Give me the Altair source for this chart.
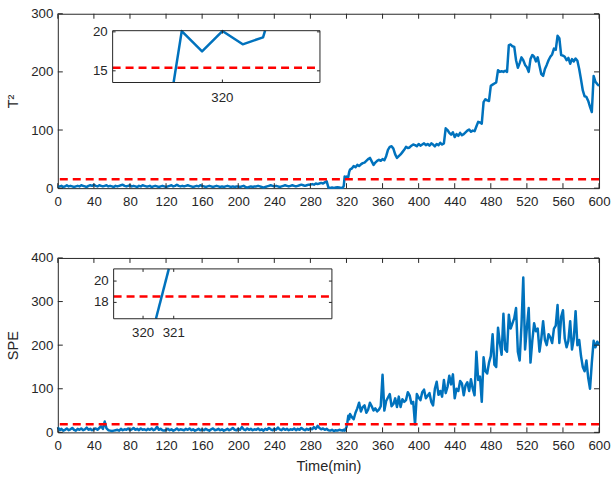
import altair as alt
import pandas as pd

# ---------------- data ----------------
x_ticks = list(range(0, 601, 40))
t2_ticks = [0, 100, 200, 300]
spe_ticks = [0, 100, 200, 300, 400]

t2_limit = 15.4
spe_limit = 18.55

# sampling: every 2 min up to 316, every minute around the fault onset, then every 2 min
time_early = list(range(0, 317, 2))
time_onset = list(range(317, 325))
time_late = list(range(326, 601, 2))

t2_early = [
    2, 3, 4, 2, 3, 5, 3, 4, 3, 2,      # 0-18
    3, 4, 3, 5, 4, 3, 2, 4, 5, 4,      # 20-38
    6, 4, 3, 5, 4, 3, 4, 5, 3, 4,      # 40-58
    3, 2, 4, 3, 4, 5, 6, 4, 3, 4,      # 60-78
    5, 3, 4, 3, 2, 4, 3, 5, 4, 3,      # 80-98
    3, 4, 2, 3, 4, 3, 2, 3, 4, 3,      # 100-118
    2, 3, 4, 5, 3, 4, 6, 4, 3, 4,      # 120-138
    3, 4, 5, 4, 3, 2, 3, 4, 3, 5,      # 140-158
    4, 3, 2, 3, 4, 3, 2, 3, 4, 3,      # 160-178
    2, 3, 2, 3, 4, 3, 2, 3, 2, 3,      # 180-198
    3, 2, 3, 4, 2, 1, 2, 3, 2, 3,      # 200-218
    3, 4, 3, 2, 1, 2, 3, 4, 5, 4,      # 220-238
    3, 4, 3, 2, 3, 4, 5, 4, 3, 4,      # 240-258
    5, 4, 3, 4, 5, 6, 5, 4, 5, 6,      # 260-278
    6, 7, 6, 8, 7, 8, 9, 8, 10, 12,    # 280-298
    1, 0.5, 1, 0.5, 1, 1.5, 1, 0.5, 1,  # 300-316
]
t2_onset = [4, 20.1, 17.5, 20.1, 18.4, 19.3, 28, 32]   # 317-324
t2_late = [
    34, 38, 36, 40, 38, 41, 43, 44, 47, 50,            # 326-344
    52, 46, 40, 44, 47, 49, 47, 50, 48, 55,            # 346-364
    66, 71, 72, 68, 58, 52, 55, 58, 62, 66,            # 366-384
    71, 69, 70, 73, 75, 74, 72, 76, 73, 75,            # 386-404
    77, 74, 76, 73, 77, 75, 72, 76, 74, 78,            # 406-424
    75, 77, 103, 100, 95, 92, 96, 88, 93, 90,          # 426-444
    95, 91, 93, 96, 99, 101, 97, 99, 98, 106,          # 446-464
    114, 113, 111, 148, 153, 151, 150, 176, 178, 180,  # 466-484
    182, 203, 200, 201, 200, 202, 200, 246, 247, 244,  # 486-504
    243, 220, 207, 215, 225, 220, 212, 208, 200, 222,  # 506-524
    229, 226, 218, 225, 210, 196, 193, 205, 212, 220,  # 526-544
    226, 230, 240, 238, 262, 258, 229, 228, 226, 220,  # 546-564
    224, 214, 222, 218, 223, 219, 205, 187, 168, 158,  # 566-584
    157, 150, 140, 131, 193, 183, 179, 176,            # 586-600
]

spe_early = [
    12, 5, 8, 4, 6, 9, 5, 7, 10, 6,    # 0-18
    4, 8, 6, 9, 5, 7, 11, 6, 8, 5,     # 20-38
    7, 9, 6, 10, 14, 8, 25, 9, 5, 4,   # 40-58
    3, 4, 5, 6, 4, 8, 5, 7, 6, 9,      # 60-78
    5, 7, 10, 6, 8, 5, 9, 6, 7, 5,     # 80-98
    8, 6, 9, 5, 7, 13, 6, 8, 5, 4,     # 100-118
    6, 8, 5, 7, 4, 6, 9, 5, 7, 6,      # 120-138
    5, 8, 6, 9, 5, 7, 4, 6, 8, 5,      # 140-158
    7, 5, 8, 6, 4, 7, 9, 5, 6, 8,      # 160-178
    5, 7, 4, 6, 8, 5, 7, 10, 6, 5,     # 180-198
    8, 6, 12, 7, 5, 9, 6, 8, 5, 7,     # 200-218
    6, 9, 5, 7, 4, 8, 6, 10, 7, 5,     # 220-238
    8, 6, 11, 7, 5, 9, 6, 8, 5, 7,     # 240-258
    6, 9, 5, 8, 6, 10, 7, 5, 8, 6,     # 260-278
    9, 7, 12, 8, 15, 10, 7, 9, 6, 8,   # 280-298
    5, 4, 6, 3, 5, 4, 6, 5, 4,         # 300-316
]
spe_onset = [6, 4, 8, 11.8, 22.9, 38, 30, 42]           # 317-324
spe_late = [
    35, 30, 45, 55, 68, 48, 58, 62, 45, 52,            # 326-344
    68, 60, 50, 55, 48, 52, 60, 132, 50, 72,           # 346-364
    80, 88, 60, 65, 78, 58, 82, 58, 76, 70,            # 366-384
    74, 92, 85, 66, 70, 18, 88, 80, 74, 92,            # 386-404
    98, 78, 84, 90, 70, 62, 100, 116, 86, 95,          # 406-424
    82, 120, 90, 104, 130, 110, 133, 78, 100, 95,      # 426-444
    118, 112, 85, 108, 115, 95, 122, 100, 85, 185,     # 446-464
    120, 128, 70, 172, 140, 135, 160, 175, 225, 155,   # 466-484
    150, 240, 205, 178, 272, 190, 185, 270, 238, 250,  # 486-504
    262, 285, 185, 165, 245, 355, 190, 240, 285, 160,  # 506-524
    210, 250, 232, 238, 185, 215, 255, 212, 200, 225,  # 526-544
    218, 205, 238, 245, 292, 205, 265, 280, 215, 195,  # 546-564
    210, 255, 190, 215, 278, 200, 212, 175, 150, 140,  # 566-584
    165, 125, 100, 160, 210, 195, 208, 200,            # 586-600
]

# zoomed windows around the onset (trace points incl. where it meets the window frame)
t2_zoom_time = [317.6, 318, 319, 320, 321, 322, 322.1]
t2_zoom_value = [13.5, 20.1, 17.5, 20.1, 18.4, 19.3, 20.15]
t2_zoom_xdomain = [314.6, 324.8]
t2_zoom_ydomain = [13.5, 20.15]
t2_zoom_xticks = [320]
t2_zoom_yticks = [15, 20]

spe_zoom_time = [320.42, 320.84]
spe_zoom_value = [16.47, 21.14]
spe_zoom_xdomain = [319.04, 326.16]
spe_zoom_ydomain = [16.47, 21.14]
spe_zoom_xticks = [320, 321]
spe_zoom_yticks = [18, 20]

# ---------------- style ----------------
W, H = 543, 175
BLUE = "#0072BD"
RED = "#FF0000"
INK = "#262626"
FONT = "Liberation Sans"
TICK = 5


def panel(values, limit, ymax, yticks, ytitle, xtitle,
          z_time, z_value, z_xdom, z_ydom, z_xticks, z_yticks,
          z_xrange, z_yrange, z_label_dy):
    time = time_early + time_onset + time_late
    df = pd.DataFrame({"t": time, "v": values})

    xenc = alt.X("t:Q", title=xtitle,
                 scale=alt.Scale(domain=[0, 600], nice=False, zero=False),
                 axis=alt.Axis(values=x_ticks, ticks=False, domain=False, grid=False,
                               labelFlush=False, labelOverlap=False,
                               labelPadding=6, titlePadding=7, format="d"))
    yenc = alt.Y("v:Q", title=ytitle,
                 scale=alt.Scale(domain=[0, ymax], nice=False, zero=False),
                 axis=alt.Axis(values=yticks, ticks=False, domain=False, grid=False,
                               labelFlush=False, labelOverlap=False,
                               labelPadding=5, titlePadding=10, format="d"))

    line = alt.Chart(df).mark_line(color=BLUE, strokeWidth=2.5, strokeJoin="round").encode(x=xenc, y=yenc)
    thr = alt.Chart(pd.DataFrame({"v": [limit]})).mark_rule(
        color=RED, strokeWidth=2.5, strokeDash=[8, 5]).encode(y=yenc)

    xt = pd.DataFrame({"t": x_ticks})
    yt = pd.DataFrame({"v": yticks})
    tick = dict(color=INK, strokeWidth=1)
    tb = alt.Chart(xt).mark_rule(**tick).encode(x=xenc, y=alt.value(H), y2=alt.value(H - TICK))
    tt = alt.Chart(xt).mark_rule(**tick).encode(x=xenc, y=alt.value(0), y2=alt.value(TICK))
    tl = alt.Chart(yt).mark_rule(**tick).encode(y=yenc, x=alt.value(0), x2=alt.value(TICK))
    tr = alt.Chart(yt).mark_rule(**tick).encode(y=yenc, x=alt.value(W), x2=alt.value(W - TICK))
    main = alt.layer(line, thr, tb, tt, tl, tr)

    # zoomed window
    ix = alt.X("t:Q", axis=None,
               scale=alt.Scale(domain=z_xdom, range=z_xrange, nice=False, zero=False))
    iy = alt.Y("v:Q", axis=None,
               scale=alt.Scale(domain=z_ydom, range=z_yrange, nice=False, zero=False))
    frame = pd.DataFrame({"t": [z_xdom[0]], "t2": [z_xdom[1]],
                          "v": [z_ydom[0]], "v2": [z_ydom[1]]})
    bg = alt.Chart(frame).mark_rect(fill="white").encode(x=ix, x2="t2:Q", y=iy, y2="v2:Q")
    ithr = alt.Chart(pd.DataFrame({"t": [z_xdom[0]], "t2": [z_xdom[1]], "v": [limit]})).mark_rule(
        color=RED, strokeWidth=2.5, strokeDash=[8, 5]).encode(x=ix, x2="t2:Q", y=iy)
    iline = alt.Chart(pd.DataFrame({"t": z_time, "v": z_value})).mark_line(
        color=BLUE, strokeWidth=2.5, strokeJoin="round").encode(x=ix, y=iy)
    box = alt.Chart(frame).mark_rect(fillOpacity=0, stroke=INK, strokeWidth=1).encode(
        x=ix, x2="t2:Q", y=iy, y2="v2:Q")
    ixt = pd.DataFrame({"t": z_xticks, "label": [str(v) for v in z_xticks]})
    iyt = pd.DataFrame({"v": z_yticks, "label": [str(v) for v in z_yticks]})
    itb = alt.Chart(ixt).mark_rule(**tick).encode(
        x=ix, y=alt.value(z_yrange[0]), y2=alt.value(z_yrange[0] - 3))
    itt = alt.Chart(ixt).mark_rule(**tick).encode(
        x=ix, y=alt.value(z_yrange[1]), y2=alt.value(z_yrange[1] + 3))
    itl = alt.Chart(iyt).mark_rule(**tick).encode(
        y=iy, x=alt.value(z_xrange[0]), x2=alt.value(z_xrange[0] + 3))
    itr = alt.Chart(iyt).mark_rule(**tick).encode(
        y=iy, x=alt.value(z_xrange[1]), x2=alt.value(z_xrange[1] - 3))
    txt = dict(font=FONT, fontSize=13.3, color=INK)
    ixl = alt.Chart(ixt).mark_text(align="center", baseline="middle", dy=z_label_dy, **txt).encode(
        x=ix, y=alt.value(z_yrange[0]), text="label:N")
    iyl = alt.Chart(iyt).mark_text(align="right", baseline="middle", dx=-5, **txt).encode(
        y=iy, x=alt.value(z_xrange[0]), text="label:N")
    inset = alt.layer(bg, ithr, iline, box, itb, itt, itl, itr, ixl, iyl)

    return alt.layer(main, inset).resolve_scale(x="independent", y="independent").properties(
        width=W, height=H)


top = panel(t2_early + t2_onset + t2_late, t2_limit, 300, t2_ticks, "T²", None,
            t2_zoom_time, t2_zoom_value, t2_zoom_xdomain, t2_zoom_ydomain,
            t2_zoom_xticks, t2_zoom_yticks, [55, 263], [69, 17], 16)
bottom = panel(spe_early + spe_onset + spe_late, spe_limit, 400, spe_ticks, "SPE", "Time(min)",
               spe_zoom_time, spe_zoom_value, spe_zoom_xdomain, spe_zoom_ydomain,
               spe_zoom_xticks, spe_zoom_yticks, [56, 275], [61, 11], 14.5)

chart = alt.vconcat(top, bottom, spacing=42).configure_view(
    stroke=INK, strokeWidth=1
).configure_axis(
    labelFont=FONT, labelFontSize=13.3, labelColor=INK,
    titleFont=FONT, titleFontSize=14.6, titleColor=INK, titleFontWeight="normal",
).properties(
    padding={"left": 5, "top": 5, "right": 2, "bottom": 4},
    background="white",
)

chart.save("out.html", embed_options={"renderer": "svg", "actions": False})
